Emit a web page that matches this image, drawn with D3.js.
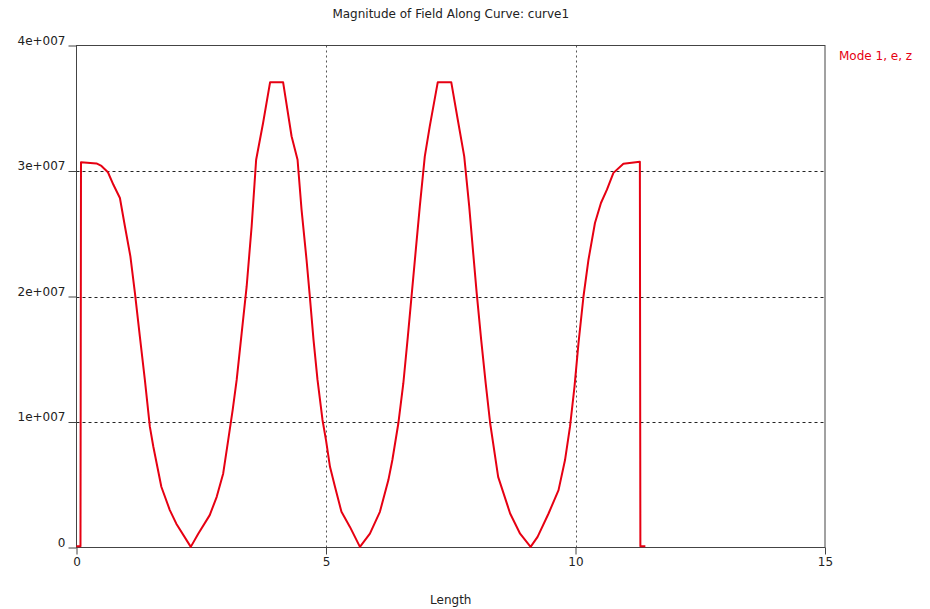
<!DOCTYPE html>
<html>
<head>
<meta charset="utf-8">
<script src="https://cdn.jsdelivr.net/npm/d3@7"></script>
<style>
  body { margin: 0; background: #fff; }
  text { font-family: "DejaVu Sans", sans-serif; font-size: 12px; fill: #222; }
</style>
</head>
<body>
<svg></svg>
<script>
// curve samples: length along curve, field magnitude
let lengths = [0, 0.08, 0.09, 0.40, 0.50, 0.63, 0.74, 0.87, 0.97, 1.08, 1.17, 1.27, 1.37, 1.47, 1.54,
  1.70, 1.87, 2.00, 2.29, 2.44, 2.67, 2.81, 2.94, 3.04, 3.13, 3.21, 3.31, 3.41, 3.51, 3.60, 3.74,
  3.88, 4.14, 4.31, 4.43, 4.51, 4.61, 4.67, 4.75, 4.83, 4.93, 5.00, 5.08, 5.18, 5.31, 5.48, 5.68,
  5.88, 6.08, 6.25, 6.33, 6.45, 6.55, 6.64, 6.72, 6.80, 6.88, 6.98, 7.08, 7.24, 7.51, 7.64, 7.77,
  7.87, 7.95, 8.02, 8.11, 8.20, 8.29, 8.45, 8.69, 8.89, 9.10, 9.24, 9.46, 9.66, 9.79, 9.89, 9.98,
  10.06, 10.16, 10.26, 10.39, 10.51, 10.63, 10.76, 10.96, 11.29, 11.30, 11.40];
let magnitudes = [0.01e7, 0.01e7, 3.07e7, 3.06e7, 3.04e7, 2.99e7, 2.89e7, 2.785e7, 2.56e7, 2.32e7, 2.03e7,
  1.68e7, 1.335e7, 0.963e7, 0.803e7, 0.484e7, 0.298e7, 0.19e7, 0.005e7, 0.11e7, 0.258e7, 0.404e7,
  0.59e7, 0.856e7, 1.096e7, 1.335e7, 1.708e7, 2.08e7, 2.56e7, 3.09e7, 3.384e7, 3.708e7, 3.708e7,
  3.277e7, 3.09e7, 2.692e7, 2.293e7, 2.027e7, 1.654e7, 1.335e7, 1.016e7, 0.856e7, 0.643e7, 0.484e7,
  0.284e7, 0.164e7, 0.005e7, 0.11e7, 0.284e7, 0.537e7, 0.697e7, 0.99e7, 1.309e7, 1.681e7, 2.027e7,
  2.373e7, 2.718e7, 3.117e7, 3.357e7, 3.708e7, 3.708e7, 3.41e7, 3.117e7, 2.718e7, 2.346e7, 2.027e7,
  1.654e7, 1.309e7, 0.99e7, 0.563e7, 0.271e7, 0.11e7, 0.005e7, 0.085e7, 0.271e7, 0.457e7, 0.697e7,
  0.963e7, 1.282e7, 1.628e7, 2.0e7, 2.293e7, 2.586e7, 2.745e7, 2.851e7, 2.985e7, 3.057e7, 3.073e7,
  0.01e7, 0.01e7];

let xTicks = [0, 5, 10, 15];
let xTickLabels = ['0', '5', '10', '15'];
let yTicks = [0, 1e7, 2e7, 3e7, 4e7];
let yTickLabels = ['0', '1e+007', '2e+007', '3e+007', '4e+007'];

let title = 'Magnitude of Field Along Curve: curve1';
let xTitle = 'Length';
let seriesName = 'Mode 1, e, z';

let width = 930;
let height = 609;
let plotLeft = 76.5, plotRight = 825, plotTop = 45.5, plotBottom = 547.5;

let svg = d3.select('svg')
            .attr('width', width)
            .attr('height', height);

let xScale = d3.scaleLinear().domain([0, 15]).range([plotLeft, plotRight]);
let yScale = d3.scaleLinear().domain([0, 4e7]).range([plotBottom, plotTop]);

// grid
svg.append('g')
   .selectAll('line')
   .data(yTicks.slice(1, -1))
   .enter()
   .append('line')
   .attr('x1', plotLeft).attr('x2', plotRight)
   .attr('y1', d => Math.round(yScale(d)) + 0.5)
   .attr('y2', d => Math.round(yScale(d)) + 0.5)
   .attr('stroke', '#222')
   .attr('stroke-dasharray', '3,3');

svg.append('g')
   .selectAll('line')
   .data(xTicks.slice(1, -1))
   .enter()
   .append('line')
   .attr('y1', plotTop).attr('y2', plotBottom)
   .attr('x1', d => Math.round(xScale(d)) + 0.5)
   .attr('x2', d => Math.round(xScale(d)) + 0.5)
   .attr('stroke', '#555')
   .attr('stroke-dasharray', '2,3');

// frame
svg.append('rect')
   .attr('x', plotLeft).attr('y', plotTop)
   .attr('width', plotRight - plotLeft).attr('height', plotBottom - plotTop)
   .attr('fill', 'none')
   .attr('stroke', '#444');

// axes
let xAxis = d3.axisBottom(xScale)
              .tickValues(xTicks)
              .tickFormat((d, i) => xTickLabels[i])
              .tickSize(7)
              .tickPadding(3);
let yAxis = d3.axisLeft(yScale)
              .tickValues(yTicks)
              .tickFormat((d, i) => yTickLabels[i])
              .tickSize(8)
              .tickPadding(3);

let gx = svg.append('g')
            .attr('transform', 'translate(0,' + plotBottom + ')')
            .call(xAxis);
let gy = svg.append('g')
            .attr('transform', 'translate(' + plotLeft + ',0)')
            .call(yAxis);

[gx, gy].forEach(g => {
    g.select('.domain').remove();
    g.selectAll('line').attr('stroke', '#444');
    g.selectAll('text').attr('font-size', 12).attr('font-family', '"DejaVu Sans", sans-serif').attr('fill', '#222');
});
gy.selectAll('text').attr('dy', '-0.1em');

// curve
let points = lengths.map((d, i) => [d, magnitudes[i]]);
let line = d3.line()
             .x(d => xScale(d[0]))
             .y(d => yScale(d[1]));

svg.append('path')
   .datum(points)
   .attr('d', line)
   .attr('fill', 'none')
   .attr('stroke', '#e60012')
   .attr('stroke-width', 2)
   .attr('stroke-linejoin', 'round');

// labels
svg.append('text')
   .attr('x', (plotLeft + plotRight) / 2)
   .attr('y', 18)
   .attr('text-anchor', 'middle')
   .text(title);

svg.append('text')
   .attr('x', (plotLeft + plotRight) / 2)
   .attr('y', 604)
   .attr('text-anchor', 'middle')
   .text(xTitle);

svg.append('text')
   .attr('x', 839)
   .attr('y', 60)
   .style('fill', '#e60012')
   .text(seriesName);
</script>
</body>
</html>
